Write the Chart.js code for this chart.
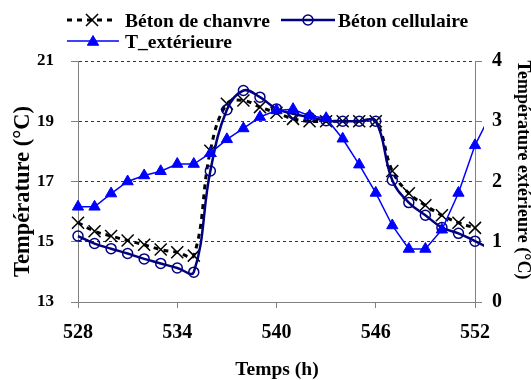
<!DOCTYPE html>
<html>
<head>
<meta charset="utf-8">
<script src="https://cdn.jsdelivr.net/npm/chart.js@4/dist/chart.umd.min.js"></script>
<style>
html,body{margin:0;padding:0;background:#fff;}
#wrap{width:531px;height:380px;position:relative;}
</style>
</head>
<body>
<div id="wrap"><canvas id="c" width="531" height="380"></canvas></div>
<script>
// ---- data ----
const hours = [528,529,530,531,532,533,534,535,536,537,538,539,540,541,542,543,544,545,546,547,548,549,550,551,552,553];
const betonChanvre = [15.63,15.35,15.19,15.04,14.90,14.74,14.65,14.54,18.02,19.58,19.69,19.47,19.28,19.08,19.00,19.00,19.00,19.00,19.00,17.35,16.61,16.21,15.88,15.63,15.46,null];
const betonCellulaire = [15.19,14.94,14.77,14.61,14.43,14.28,14.13,13.99,17.35,19.38,20.02,19.80,19.41,19.25,19.13,19.02,19.00,19.00,19.00,17.04,16.30,15.88,15.47,15.28,15.02,14.75];
const tExterieure = [1.58,1.58,1.80,2.00,2.10,2.17,2.29,2.29,2.47,2.70,2.88,3.07,3.18,3.20,3.09,3.05,2.71,2.28,1.81,1.27,0.88,0.88,1.20,1.81,2.60,3.15];
const xRange = [528, 552];
const xTicks = [528,534,540,546,552];
const yLeftTicks = [13,15,17,19,21];
const yRightTicks = [0,1,2,3,4];
const seriesNames = ['Béton de chanvre','Béton cellulaire','T_extérieure'];
const xTitle = 'Temps (h)';
const yTitle = 'Température (°C)';
const y2Title = 'Température extérieure (°C)';

const FONT = '"Liberation Serif", "Times New Roman", serif';
const toPts = arr => hours.map((h, i) => ({x: h, y: arr[i]}));
const clipBox = {left: 10, top: 10, right: 9, bottom: 10};

const datasets = [
  {
    label: seriesNames[2], data: toPts(tExterieure), yAxisID: 'y2', order: 0,
    borderColor: '#0000FF', backgroundColor: '#0000FF', borderWidth: 1.5, tension: 0,
    pointStyle: 'triangle', pointRadius: 6.5, pointBackgroundColor: '#0000FF',
    pointBorderColor: '#0000FF', pointBorderWidth: 1, clip: clipBox
  },
  {
    label: seriesNames[1], data: toPts(betonCellulaire), yAxisID: 'y', order: 1,
    borderColor: '#000080', backgroundColor: 'rgba(0,0,0,0)', borderWidth: 2.5, tension: 0.4,
    pointStyle: 'circle', pointRadius: 5, pointBackgroundColor: 'rgba(0,0,0,0)',
    pointBorderColor: '#000080', pointBorderWidth: 1.5, clip: clipBox
  },
  {
    label: seriesNames[0], data: toPts(betonChanvre), yAxisID: 'y', order: 2,
    borderColor: '#000000', backgroundColor: 'rgba(0,0,0,0)', borderWidth: 3, borderDash: [5, 5],
    tension: 0.4, pointStyle: 'crossRot', pointRadius: 8.5, pointBorderColor: '#000000',
    pointBorderWidth: 1.5, clip: clipBox
  }
];

function drawMarker(ctx, style, r, x, y, stroke, fill, bw) {
  ctx.save();
  ctx.setLineDash([]);
  ctx.strokeStyle = stroke; ctx.fillStyle = fill; ctx.lineWidth = bw;
  Chart.helpers.drawPoint(ctx, {pointStyle: style, radius: r, rotation: 0, borderWidth: bw}, x, y);
  ctx.restore();
}

const customText = {
  id: 'customText',
  afterDraw(chart) {
    const ctx = chart.ctx;
    ctx.save();
    ctx.lineCap = 'butt';
    // item 1: Béton de chanvre
    ctx.strokeStyle = '#000'; ctx.lineWidth = 3; ctx.setLineDash([5, 5]);
    ctx.beginPath(); ctx.moveTo(67, 20); ctx.lineTo(117, 20); ctx.stroke();
    ctx.setLineDash([]);
    drawMarker(ctx, 'crossRot', 8.5, 92, 20, '#000', 'rgba(0,0,0,0)', 1.5);
    // item 2: Béton cellulaire
    ctx.strokeStyle = '#000080'; ctx.lineWidth = 2.5;
    ctx.beginPath(); ctx.moveTo(281, 20); ctx.lineTo(335, 20); ctx.stroke();
    drawMarker(ctx, 'circle', 5, 308, 20, '#000080', 'rgba(0,0,0,0)', 1.5);
    // item 3: T_extérieure
    ctx.strokeStyle = '#0000FF'; ctx.lineWidth = 1.5;
    ctx.beginPath(); ctx.moveTo(67, 41); ctx.lineTo(119, 41); ctx.stroke();
    drawMarker(ctx, 'triangle', 6.5, 93, 42, '#0000FF', '#0000FF', 1);

    ctx.fillStyle = '#000';
    ctx.textAlign = 'left'; ctx.textBaseline = 'alphabetic';
    ctx.font = 'bold 19.5px ' + FONT;
    ctx.fillText(seriesNames[0], 125, 27);
    ctx.fillText(seriesNames[1], 338, 27);
    ctx.fillText(seriesNames[2], 125, 48);

    // axis titles
    ctx.textAlign = 'center';
    ctx.font = 'bold 19.5px ' + FONT;
    ctx.fillText(xTitle, 277, 375);

    ctx.save();
    ctx.translate(29, 191.5); ctx.rotate(-Math.PI / 2);
    ctx.font = 'bold 22.5px ' + FONT;
    ctx.fillText(yTitle, 0, 0);
    ctx.restore();

    ctx.save();
    ctx.translate(518, 170); ctx.rotate(Math.PI / 2);
    ctx.font = 'bold 18px ' + FONT;
    ctx.fillText(y2Title, 0, 0);
    ctx.restore();
    ctx.restore();
  }
};

new Chart(document.getElementById('c'), {
  type: 'line',
  data: {datasets},
  options: {
    responsive: false,
    animation: false,
    devicePixelRatio: 1,
    layout: {padding: {top: 61, left: 0, right: 0, bottom: 0}},
    plugins: {legend: {display: false}, tooltip: {enabled: false}},
    scales: {
      x: {
        type: 'linear', position: 'bottom', bounds: 'data',
        afterDataLimits: s => { s.min = xRange[0]; s.max = xRange[1]; },
        afterBuildTicks: s => { s.ticks = xTicks.map(v => ({value: v})); },
        afterFit: s => { s.height = 78; },
        grid: {drawOnChartArea: false, drawTicks: true, tickLength: 6, tickColor: '#808080', tickWidth: 1},
        border: {display: true, color: '#808080', width: 1},
        ticks: {stepSize: 6, font: {family: FONT, size: 20, weight: 'bold'}, color: '#000', padding: 13, maxRotation: 0, autoSkip: false}
      },
      y: {
        type: 'linear', position: 'left', min: 13, max: 21,
        afterBuildTicks: s => { s.ticks = yLeftTicks.map(v => ({value: v})); },
        afterFit: s => { s.width = 78; },
        grid: {
          drawOnChartArea: true, drawTicks: true, tickLength: 7, tickWidth: 1, tickColor: '#808080',
          lineWidth: 1,
          color: c => (c.tick && c.tick.value === 13) ? 'rgba(0,0,0,0)' : '#333333'
        },
        border: {display: true, color: '#808080', width: 1, dash: [3, 3]},
        ticks: {font: {family: FONT, size: 17, weight: 'bold'}, color: '#000', padding: 17}
      },
      y2: {
        type: 'linear', position: 'right', min: 0, max: 4,
        afterBuildTicks: s => { s.ticks = yRightTicks.map(v => ({value: v})); },
        afterFit: s => { s.width = 56; },
        grid: {drawOnChartArea: false, drawTicks: true, tickLength: 7, tickWidth: 1, tickColor: '#808080'},
        border: {display: true, color: '#808080', width: 1},
        ticks: {font: {family: FONT, size: 20, weight: 'bold'}, color: '#000', padding: 10}
      }
    }
  },
  plugins: [customText]
});
</script>
</body>
</html>
